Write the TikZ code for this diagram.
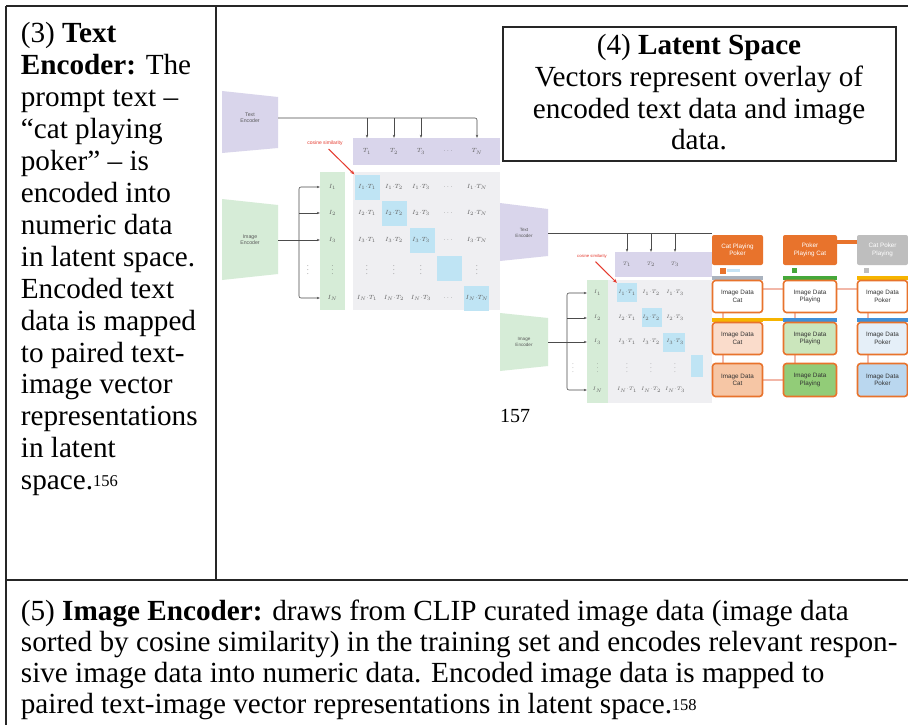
\documentclass[tikz,border=0pt]{standalone}
\usepackage{fontspec}
\setmainfont{Liberation Serif}
\setsansfont{Liberation Sans}
\usetikzlibrary{arrows.meta,calc}
\definecolor{frameC}{HTML}{262626}
\definecolor{purp}{HTML}{D9D5EB}
\definecolor{grn}{HTML}{D6ECD7}
\definecolor{cellB}{HTML}{BFE4F4}
\definecolor{mbg}{HTML}{EFEFF2}
\definecolor{redC}{HTML}{E53A2E}
\definecolor{org}{HTML}{E8732C}
\definecolor{grayH}{HTML}{BEBEBE}
\definecolor{yel}{HTML}{F6B400}
\definecolor{grnD}{HTML}{45A83A}
\definecolor{bluD}{HTML}{3F8FD8}
\definecolor{barG}{HTML}{A9B2BE}
\definecolor{pk}{HTML}{F2B7A8}
\definecolor{peachA}{HTML}{FADCCB}
\definecolor{peachB}{HTML}{F6C6A5}
\definecolor{grnA}{HTML}{CBE6BC}
\definecolor{grnB}{HTML}{92CC78}
\definecolor{bluA}{HTML}{E5EFF8}
\definecolor{bluB}{HTML}{BAD7EF}
\definecolor{lblue}{HTML}{C5E3F5}
\newcommand{\bodyfont}{\fontsize{29.2}{31.9}\selectfont}
\newcommand{\fnum}[1]{\raisebox{3pt}{\fontsize{16.5}{16.5}\selectfont #1}}
\tikzset{
 frame/.style={draw=frameC, line width=1.4pt},
 bodytxt/.style={font=\bodyfont, inner sep=0pt, anchor=base west},
 boxtxt/.style={font=\bodyfont, inner sep=0pt, anchor=base},
 dlab/.style={font=\sffamily\fontsize{5.2}{5.8}\selectfont, text=black!65, align=center, inner sep=0pt},
 ent/.style={font=\fontsize{6.5}{6.5}\selectfont, text=black!62, inner sep=0pt},
 entb/.style={font=\fontsize{5.3}{5.3}\selectfont, text=black!62, inner sep=0pt},
 conn/.style={draw=black!70, line width=0.6pt},
 arr/.style={conn, -{Stealth[length=3pt,width=2.4pt]}},
 redarr/.style={draw=redC, line width=1pt, -{Stealth[length=4pt,width=3.5pt]}},
 redlab/.style={font=\sffamily\fontsize{5}{5}\selectfont, text=redC, inner sep=0pt},
 hdr/.style={fill=#1, rounded corners=2pt, inner sep=0pt, text=white, font=\sffamily\fontsize{6.3}{7.3}\selectfont, align=center},
 ibox/.style={fill=#1, draw=org, line width=1.6pt, rounded corners=3pt, inner sep=0pt, text=black!80, font=\sffamily\fontsize{6.3}{7.3}\selectfont, align=center},
 cbar/.style={fill=#1, inner sep=0pt},
 pkline/.style={draw=pk, line width=2.5pt},
 plain/.style={inner sep=0pt},
}
\begin{document}
\begin{tikzpicture}[x=1pt,y=-1pt]
\useasboundingbox (0,0) rectangle (908,725);
\fill[white] (0,0) rectangle (908,725);

% ---------- table frame ----------
\draw[frame] (6,6) -- (908,6);
\draw[frame] (6,6) -- (6,725);
\draw[frame] (216,6) -- (216,580);
\draw[frame] (6,580) -- (908,580);

% ---------- left column text ----------
\foreach \t [count=\i] in {
 {(3) \textbf{Text}},
 {\textbf{Encoder:} The},
 {prompt text –},
 {“cat playing},
 {poker” – is},
 {encoded into},
 {numeric data},
 {in latent space.},
 {Encoded text},
 {data is mapped},
 {to paired text-},
 {image vector},
 {representations},
 {in latent},
 {space.\fnum{156}}}
 { \node[bodytxt] (L\i) at (20.7,{43+31.9*(\i-1)}) {\t}; }

% ---------- latent space box ----------
\node[draw=frameC, line width=1.2pt, minimum width=393, minimum height=134, plain] (lsbox) at (699.5,94) {};
\node[boxtxt] (ls1) at (699,55) {(4) \textbf{Latent Space}};
\node[boxtxt] (ls2) at (699,87) {Vectors represent overlay of};
\node[boxtxt] (ls3) at (699,118) {encoded text data and image};
\node[boxtxt] (ls4) at (699,149) {data.};

% ---------- bottom text ----------
\node[bodytxt] (B1) at (20.7,620) {(5) \textbf{Image Encoder:} draws from CLIP curated image data (image data};
\node[bodytxt] (B2) at (20.7,651) {sorted by cosine similarity) in the training set and encodes relevant respon-};
\node[bodytxt] (B3) at (20.7,682) {sive image data into numeric data. Encoded image data is mapped to};
\node[bodytxt] (B4) at (20.7,713) {paired text-image vector representations in latent space.\fnum{158}};

\node[plain, anchor=base west, font=\fontsize{20}{20}\selectfont] (n157) at (500,422) {157};

% ================= diagram 1 =================
\fill[purp] (222,91) -- (278,97) -- (278,148) -- (222,153) -- cycle;
\node[dlab, minimum width=56, minimum height=40] (te1) at (250,118) {Text\\Encoder};
\fill[grn] (222,199) -- (278,205) -- (278,274) -- (222,280) -- cycle;
\node[dlab, minimum width=56, minimum height=40] (ie1) at (250,240) {Image\\Encoder};

\node[fill=purp, minimum width=147, minimum height=27, plain] (tbar1) at (426.5,151.5) {};
\node[fill=mbg, minimum width=147, minimum height=138, plain] (mbg1) at (426.5,241) {};
\node[fill=grn, minimum width=25, minimum height=138, plain] (gc1) at (332.5,241) {};
\foreach \k/\x/\y in {1/367/187, 2/394.5/213, 3/422/240, 4/449/268, 5/476.5/298.5}
 { \node[fill=cellB, minimum width=25, minimum height=25, plain] (bc1\k) at (\x,\y) {}; }

\foreach \c/\cx/\cl in {1/367/1, 2/394/2, 3/421/3, 5/477/N}
 { \node[ent, minimum width=20, minimum height=27] (t1\c) at (\cx,151.5) {$T_{\cl}$}; }
\node[ent, minimum width=20, minimum height=27] (t14) at (448,151.5) {$\cdots$};

\foreach \r/\ry/\rl in {1/187/1, 2/213/2, 3/240/3, 5/298/N} {
  \foreach \c/\cx/\cl in {1/367/1, 2/394/2, 3/421/3, 5/477/N}
   { \node[ent] (e1\r\c) at (\cx,\ry) {$I_{\rl}{\cdot}T_{\cl}$}; }
  \node[ent] (e1\r4) at (448,\ry) {$\cdots$};
  \node[ent, minimum width=25, minimum height=18] (i1\r) at (332.5,\ry) {$I_{\rl}$};
}
\foreach \c/\cx in {1/367, 2/394, 3/421, 5/477}
 { \node[ent] (e14\c) at (\cx,267) {$\vdots$}; }
\node[ent] (i14) at (332.5,267) {$\vdots$};
\node[ent] (vd1) at (308,267) {$\vdots$};

\draw[conn, rounded corners=2pt, -{Stealth[length=3pt,width=2.4pt]}] (te1.east) -| (t15.north);
\foreach \c in {1,2,3}
 { \draw[arr] (t1\c.north |- te1.east) -- (t1\c.north); }

\coordinate (br1) at (299,240);
\draw[arr] (ie1.east) -- (i13.west);
\draw[arr, rounded corners=2pt] (br1) |- (i11.west);
\draw[arr, rounded corners=2pt] (br1) |- (i15.west);
\draw[arr] (br1 |- i12.west) -- (i12.west);

\node[redlab] (cs1) at (325,143) {cosine similarity};
\draw[redarr, shorten <=5pt] (cs1.south) -- (bc11.north west);

% ================= diagram 2 =================
\fill[purp] (500,203) -- (548,209) -- (548,256) -- (500,261) -- cycle;
\node[dlab, font=\sffamily\fontsize{4.6}{5.2}\selectfont, minimum width=48, minimum height=36] (te2) at (524,233) {Text\\Encoder};
\fill[grn] (500,313) -- (548,318) -- (548,366) -- (500,371) -- cycle;
\node[dlab, font=\sffamily\fontsize{4.6}{5.2}\selectfont, minimum width=48, minimum height=36] (ie2) at (524,342) {Image\\Encoder};

\node[fill=purp, minimum width=97, minimum height=25, plain] (tbar2) at (663.5,264.5) {};
\node[fill=mbg, minimum width=104, minimum height=123, plain] (mbg2) at (660,341.5) {};
\node[fill=grn, minimum width=21, minimum height=123, plain] (gc2) at (597.5,341.5) {};
\foreach \k/\x/\y/\w/\h in {1/627/292.5/20/19, 2/652/317.5/20/19, 3/674/342.5/22/19, 4/697/366/12/22}
 { \node[fill=cellB, minimum width=\w, minimum height=\h, plain] (bc2\k) at (\x,\y) {}; }

\foreach \c/\cx in {1/627, 2/651, 3/675}
 { \node[entb, minimum width=16, minimum height=25] (t2\c) at (\cx,264.5) {$T_{\c}$}; }

\foreach \r/\ry/\rl in {1/293/1, 2/318/2, 3/342/3, 5/390/N} {
  \foreach \c/\cx in {1/627, 2/651, 3/675}
   { \node[entb] (e2\r\c) at (\cx,\ry) {$I_{\rl}{\cdot}T_{\c}$}; }
  \node[entb, minimum width=21, minimum height=16] (i2\r) at (597.5,\ry) {$I_{\rl}$};
}
\foreach \c/\cx in {1/627, 2/651, 3/675}
 { \node[entb] (e24\c) at (\cx,365) {$\vdots$}; }
\node[entb] (i24) at (597.5,365) {$\vdots$};
\node[entb] (vd2) at (573,365) {$\vdots$};

\coordinate (br2) at (567,342);
\draw[arr] (ie2.east) -- (i23.west);
\draw[arr, rounded corners=2pt] (br2) |- (i21.west);
\draw[arr, rounded corners=2pt] (br2) |- (i25.west);
\draw[arr] (br2 |- i22.west) -- (i22.west);

\node[redlab, font=\sffamily\fontsize{4.2}{4.2}\selectfont] (cs2) at (592,256) {cosine similarity};
\draw[redarr, shorten <=5pt] (cs2.south) -- (bc21.north west);

% ---- orange overlay part ----
\node[hdr=org, minimum width=51, minimum height=30] (hd1) at (737.5,250) {Cat Playing\\Poker};
\node[hdr=org, minimum width=54, minimum height=30] (hd2) at (810,250) {Poker\\Playing Cat};
\node[hdr=grayH, minimum width=51, minimum height=30] (hd3) at (882.5,250) {Cat Poker\\Playing};

\draw[conn] (te2.east) -- (hd1.west |- te2.east);
\foreach \c in {1,2,3}
 { \draw[arr] (t2\c.north |- te2.east) -- (t2\c.north); }

\draw[draw=org, line width=4pt] ([yshift=8pt]hd2.east) -- ([yshift=8pt]hd3.west);

% small markers under headers
\node[cbar=org, minimum width=6, minimum height=6] (sq1) at (723,270.5) {};
\node[cbar=lblue, minimum width=13, minimum height=3] (sq1b) at (733,270.5) {};
\node[cbar=grnD, minimum width=5, minimum height=5] (sq2) at (794.5,270.5) {};
\node[cbar=grayH, minimum width=5, minimum height=5] (sq3) at (866.5,270.5) {};

% pink links
\draw[pkline] (763,289) -- (783,289);
\draw[pkline] (837,289) -- (857,289);
\draw[pkline] (763,380) -- (783,380);
\foreach \x in {723,795,868}
 { \draw[pkline] (\x,313) -- (\x,322); \draw[pkline] (\x,355) -- (\x,363); }

% colour bars
\node[cbar=barG, minimum width=51, minimum height=4] (cb11) at (737.5,277.5) {};
\node[cbar=grnD, minimum width=54, minimum height=4] (cb12) at (810,277.5) {};
\node[cbar=yel, minimum width=51, minimum height=4] (cb13) at (882.5,277.5) {};
\node[cbar=yel, minimum width=51, minimum height=4] (cb21) at (737.5,319.5) {};
\node[cbar=bluD, minimum width=54, minimum height=4] (cb22) at (810,319.5) {};
\node[cbar=bluD, minimum width=51, minimum height=4] (cb23) at (882.5,319.5) {};
\draw[draw=yel, line width=3pt] (cb21.east) -- (cb22.west);

% image data boxes
\foreach \c/\cx/\w/\lab/\fa/\fb in {1/737.5/50/Cat/peachA/peachB, 2/810/53/Playing/grnA/grnB, 3/882.5/50/Poker/bluA/bluB} {
  \node[ibox=white, minimum width=\w, minimum height=32] (r1\c) at (\cx,296.5) {Image Data\\\lab};
  \node[ibox=\fa, minimum width=\w, minimum height=32] (r2\c) at (\cx,338.5) {Image Data\\\lab};
  \node[ibox=\fb, minimum width=\w, minimum height=33] (r3\c) at (\cx,380) {Image Data\\\lab};
}
\end{tikzpicture}
\end{document}
